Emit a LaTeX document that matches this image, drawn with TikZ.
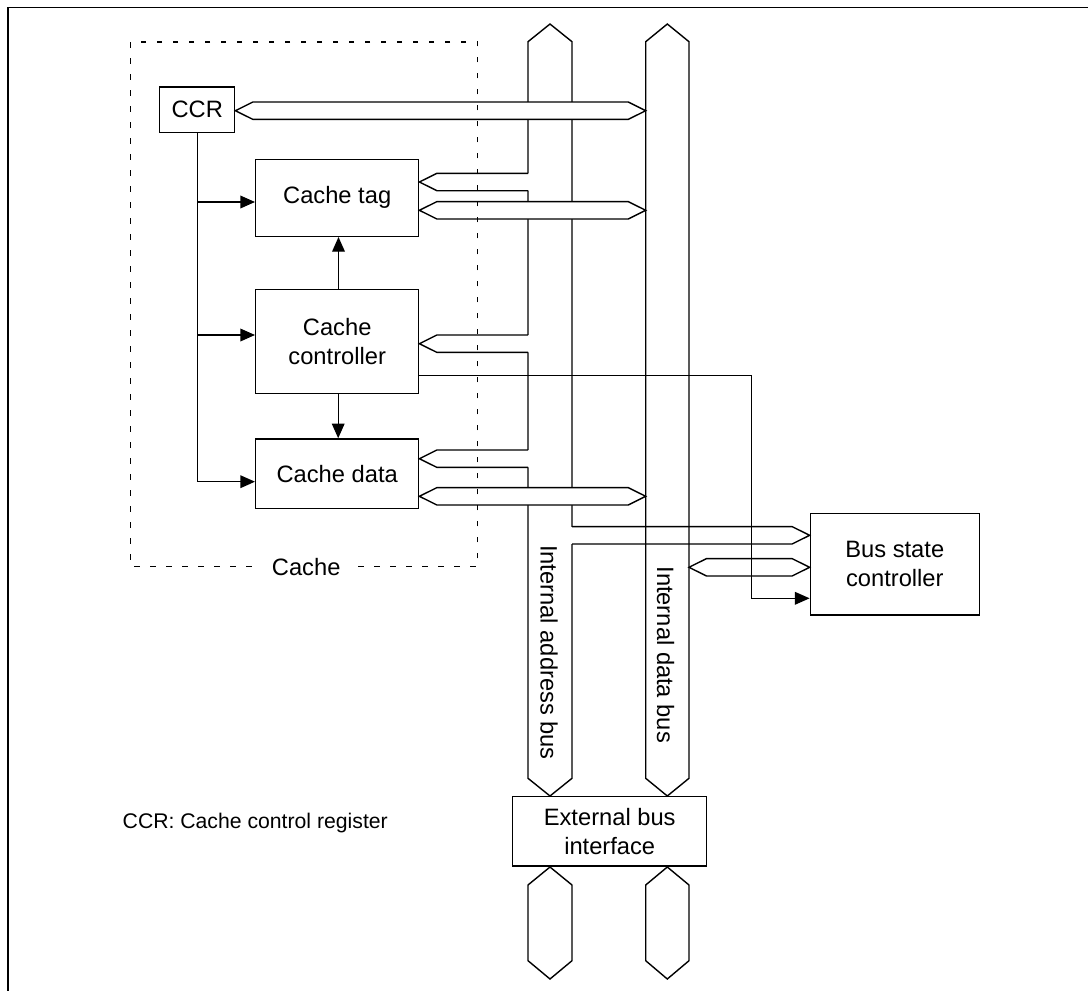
\documentclass[tikz,border=0pt]{standalone}
\usepackage{fontspec}
\setmainfont{Liberation Sans}
\usetikzlibrary{arrows.meta,calc}
\newcommand\dblarrow[2]{\filldraw[busfill] (#1) -- ($(#1)+(17.5,-8.7)$) -- ($(#2)+(-17.5,-8.7)$) -- (#2) -- ($(#2)+(-17.5,8.7)$) -- ($(#1)+(17.5,8.7)$) -- cycle;}
\newcommand\brleft[2]{%
 \fill[white] ($(#2)+(0.9,-8.7)$) -- ($(#1)+(17.5,-8.7)$) -- (#1) -- ($(#1)+(17.5,8.7)$) -- ($(#2)+(0.9,8.7)$) -- cycle;
 \draw ($(#2)+(0,-8.7)$) -- ($(#1)+(17.5,-8.7)$) -- (#1) -- ($(#1)+(17.5,8.7)$) -- ($(#2)+(0,8.7)$);}
\newcommand\brright[2]{%
 \fill[white] ($(#2)+(-0.9,-8.7)$) rectangle ($(#2)+(0.9,8.7)$);
 \draw ($(#2)+(0,-8.7)$) -- ($(#1)+(-17.5,-8.7)$) -- (#1) -- ($(#1)+(-17.5,8.7)$) -- ($(#2)+(0,8.7)$);}
\begin{document}
\begin{tikzpicture}[x=1pt,y=-1pt,
  line width=1.4pt,
  every node/.style={font=\fontsize{23.7}{28.7}\selectfont},
  block/.style={draw, fill=white, inner sep=0pt, align=center},
  sig/.style={-{Triangle[length=14.7pt,width=12.7pt]}},
  busfill/.style={fill=white, draw},
  cachebox/.style={draw, dash pattern=on 5.5pt off 10.5pt},
]
\useasboundingbox (0,0) rectangle (1088,991);
% frame
\draw (8,991) -- (8,7.3) -- (1088,7.3);

% blocks
\node[block, minimum width=75pt, minimum height=45.3pt] (ccr) at (197.2,109.7) {CCR};
\node[block, minimum width=163pt, minimum height=77pt] (tag) at (337.2,197.8) {Cache tag};
\node[block, minimum width=163pt, minimum height=104pt] (ctrl) at (337.2,341.7) {Cache\\controller};
\node[block, minimum width=163pt, minimum height=69.5pt] (data) at (337.2,473.7) {Cache data};
\node[block, minimum width=169pt, minimum height=101.3pt] (bsc) at (894.8,564.3) {Bus state\\controller};
\node[block, minimum width=194pt, minimum height=69.3pt] (ebi) at (609.7,831.3) {External bus\\interface};

% buses
\draw (528,41.7) -- (550,24) -- (572,41.7) -- (572,778.3) -- (550,796) -- (528,778.3) -- cycle;
\draw (667.3,24) -- (689,41.7) -- (689,778.3) -- (667.3,796) -- (645.7,778.3) -- (645.7,41.7) -- cycle;
\draw (550,867) -- (572,885) -- (572,960.7) -- (550,979) -- (528,960.7) -- (528,885) -- cycle;
\draw (667.3,867) -- (689,885) -- (689,960.7) -- (667.3,979) -- (645.7,960.7) -- (645.7,885) -- cycle;
\node[rotate=-90] (abl) at (549,652.5) {Internal address bus};
\node[rotate=-90] (dbl) at (665.5,654.7) {Internal data bus};

% bus coordinates
\coordinate (d1) at (645.7,110.7);
\coordinate (a2) at (528,182);
\coordinate (d2) at (645.7,210.3);
\coordinate (a3) at (528,343.7);
\coordinate (a4) at (528,458.7);
\coordinate (d4) at (645.7,496.3);
\coordinate (a5) at (572,535.3);
\coordinate (d5) at (689,567.3);
\coordinate (c2) at (751.7,598.3);

% bus arrows
\dblarrow{ccr.east |- d1}{d1}
\brleft{tag.east |- a2}{a2}
\dblarrow{tag.east |- d2}{d2}
\brleft{ctrl.east |- a3}{a3}
\brleft{data.east |- a4}{a4}
\dblarrow{data.east |- d4}{d4}
\brright{bsc.west |- a5}{a5}
\dblarrow{d5}{bsc.west |- d5}

% control signals
\draw[sig] (ccr.south) |- (data.west |- 0,481.7);
\draw[sig] (ccr.south |- 0,202) -- (tag.west |- 0,202);
\draw[sig] (ccr.south |- 0,335) -- (ctrl.west |- 0,335);
\draw[sig] (ctrl.north -| 338.5,0) -- (tag.south -| 338.5,0);
\draw[sig] (ctrl.south -| 338.2,0) -- (data.north -| 338.2,0);
\draw[sig] (ctrl.east |- 0,375.3) -| (c2) -- (bsc.west |- c2);

% cache outline
\draw[cachebox] (130.7,42) rectangle (477.7,566.7);
\node[fill=white, inner xsep=10pt, inner ysep=2pt] (cachelbl) at (306.2,566.7) {Cache};

\node[anchor=west, inner sep=0pt, font=\fontsize{21.2}{25}\selectfont] (note) at (122,823) {CCR: Cache control register};
\end{tikzpicture}
\end{document}
